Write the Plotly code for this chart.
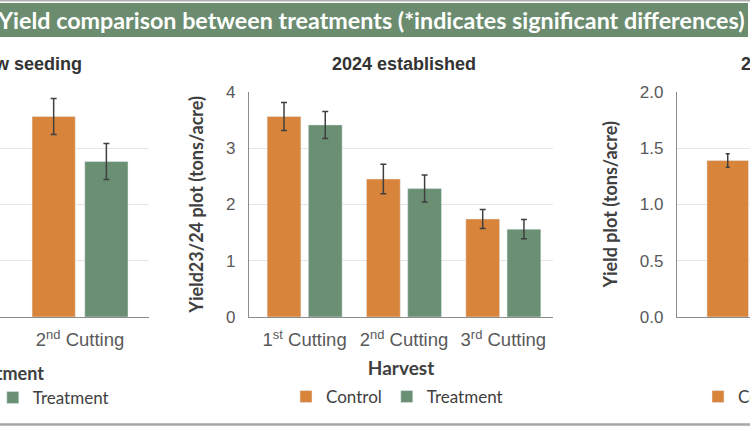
import plotly.graph_objects as go

# ---------------- data ----------------
harvest_new = ["1<sup>st</sup> Cutting", "2<sup>nd</sup> Cutting"]
new_control = [None, 3.56]
new_control_err = [None, 0.32]
new_treat = [None, 2.76]
new_treat_err = [None, 0.32]

harvest_est = ["1<sup>st</sup> Cutting", "2<sup>nd</sup> Cutting", "3<sup>rd</sup> Cutting"]
est_control = [3.56, 2.45, 1.74]
est_control_err = [0.25, 0.26, 0.17]
est_treat = [3.41, 2.28, 1.56]
est_treat_err = [0.24, 0.24, 0.17]

harvest_r = ["1<sup>st</sup> Cutting"]
r_control = [1.39]
r_control_err = [0.06]
r_treat = [None]
r_treat_err = [None]

y_ticks_4 = [0, 1, 2, 3, 4]
y_ticks_2 = [0.0, 0.5, 1.0, 1.5, 2.0]

ORANGE = "#d9843b"
GREEN = "#6a8f72"
BANNER = "#6b8c6f"
ERR = "#3f3f3f"
TXT = "#404040"
TICK = "#595959"

W, H = 750, 430
def px(x):
    return x / W
def py(y):
    return (H - y) / H

fig = go.Figure()

def add_pair(xs, c, ce, t, te, xa, ya, leg, cap=3):
    fig.add_trace(go.Bar(x=xs, y=c, name="Control", marker=dict(color=ORANGE),
                         error_y=dict(type="data", array=ce, color=ERR, thickness=1.5, width=cap),
                         xaxis=xa, yaxis=ya, legend=leg))
    fig.add_trace(go.Bar(x=xs, y=t, name="Treatment", marker=dict(color=GREEN),
                         error_y=dict(type="data", array=te, color=ERR, thickness=1.5, width=cap),
                         xaxis=xa, yaxis=ya, legend=leg))

add_pair(harvest_new, new_control, new_control_err, new_treat, new_treat_err, "x", "y", "legend2")
add_pair(harvest_est, est_control, est_control_err, est_treat, est_treat_err, "x2", "y2", "legend")
add_pair(harvest_r, r_control, r_control_err, r_treat, r_treat_err, "x3", "y3", "legend3", cap=2)

ydom = [py(317), py(91.7)]
tickfont = dict(family="Liberation Sans", size=18.5, color=TICK)
titlefont = dict(family="Lato", size=18, color=TXT, weight="bold")
grid = "#e6e6e6"
axline = "#8c8c8c"

xcommon = dict(type="category", showline=True, linecolor=axline, linewidth=1.2,
               showgrid=False, ticks="", tickfont=tickfont, fixedrange=True,
               ticklabelstandoff=6)
ycommon = dict(showgrid=True, gridcolor=grid, gridwidth=1, zeroline=False,
               tickfont=dict(family="Liberation Sans", size=17, color=TICK), ticks="",
               ticklabelstandoff=9)

legfont = dict(family="Lato", size=17, color=TXT)

fig.update_layout(
    width=W, height=H,
    margin=dict(l=0, r=0, t=0, b=0, autoexpand=False),
    paper_bgcolor="white", plot_bgcolor="white",
    barmode="group", bargap=0.17, bargroupgap=0.18,
    xaxis=dict(domain=[0, px(149)], range=[0.37, 1.543], anchor="y", **xcommon),
    yaxis=dict(domain=ydom, range=[0, 4], tickvals=y_ticks_4, anchor="x",
               showline=False, showticklabels=False, **ycommon),
    xaxis2=dict(domain=[px(249), px(553)], range=[-0.56, 2.5], anchor="y2",
                title=dict(text="Harvest", font=dict(family="Lato", size=19, color=TXT, weight="bold"),
                           standoff=12), **xcommon),
    yaxis2=dict(domain=ydom, range=[0, 4], tickvals=y_ticks_4, anchor="x2",
                showline=True, linecolor=axline, linewidth=1.2,
                title=dict(text="Yield23/24 plot (tons/acre)", font=titlefont, standoff=17),
                **ycommon),
    xaxis3=dict(domain=[px(677), 1], range=[-0.623, -0.025], anchor="y3", **xcommon),
    yaxis3=dict(domain=ydom, range=[0, 2], tickvals=y_ticks_2, tickformat=".1f", anchor="x3",
                showline=True, linecolor=axline, linewidth=1.2,
                title=dict(text="Yield plot (tons/acre)", font=titlefont, standoff=17),
                **ycommon),
    legend=dict(orientation="h", x=px(286), y=py(397), xanchor="left", yanchor="middle",
                font=legfont, bgcolor="rgba(0,0,0,0)"),
    legend2=dict(orientation="h", x=px(-108), y=py(386), xanchor="left", yanchor="middle",
                 title=dict(text="Treatment", side="top center",
                            font=dict(family="Lato", size=18, color=TXT, weight="bold")),
                 font=legfont, bgcolor="rgba(0,0,0,0)"),
    legend3=dict(orientation="h", x=px(698), y=py(397), xanchor="left", yanchor="middle",
                 font=legfont, bgcolor="rgba(0,0,0,0)"),
    shapes=[
        dict(type="rect", xref="paper", yref="paper", x0=0, x1=px(748), y0=py(37), y1=py(3),
             fillcolor=BANNER, line=dict(width=0), layer="below"),
        dict(type="line", xref="paper", yref="paper", x0=0, x1=1, y0=py(0.8), y1=py(0.8),
             line=dict(color="#b0b0b0", width=1.5)),
        dict(type="line", xref="paper", yref="paper", x0=0, x1=1, y0=py(424.5), y1=py(424.5),
             line=dict(color="#a6a6a6", width=2.5)),
    ],
    annotations=[
        dict(text="Yield comparison between treatments (*indicates significant differences)",
             xref="paper", yref="paper", x=px(-5), y=py(20), xanchor="left", yanchor="middle",
             showarrow=False, font=dict(family="Lato", size=23.3, color="white", weight="bold")),
        dict(text="2024 new seeding", xref="paper", yref="paper", x=px(84), y=py(64),
             xanchor="right", yanchor="middle", showarrow=False,
             font=dict(family="Liberation Sans", size=18, color="#333333", weight="bold")),
        dict(text="2024 established", xref="paper", yref="paper", x=px(404), y=py(64),
             xanchor="center", yanchor="middle", showarrow=False,
             font=dict(family="Liberation Sans", size=18, color="#333333", weight="bold")),
        dict(text="2025 established", xref="paper", yref="paper", x=px(739), y=py(64),
             xanchor="left", yanchor="middle", showarrow=False,
             font=dict(family="Liberation Sans", size=18, color="#333333", weight="bold")),
    ],
)

fig.write_html("out.html", config={"displayModeBar": False},
               post_script="document.body.style.margin='0px';")
